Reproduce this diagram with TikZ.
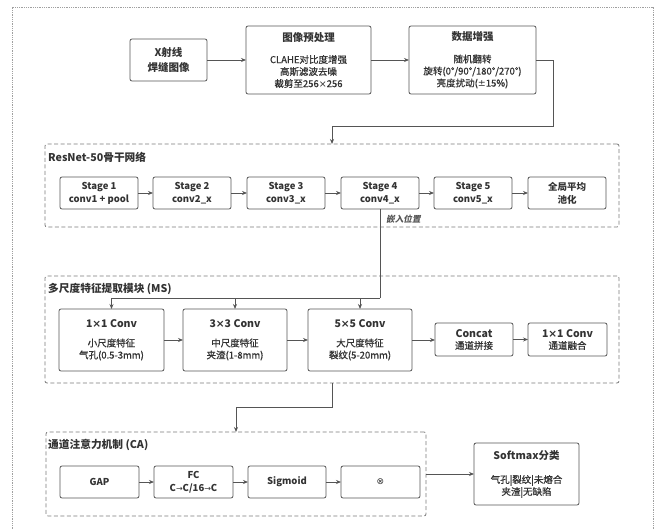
\documentclass[tikz,border=0pt]{standalone}
\usepackage{fontspec}
\setmainfont{Noto Sans CJK SC}
\newfontfamily\symf{DejaVu Sans}
\newfontfamily\medf{Noto Sans CJK SC}[FakeBold=0.8]
\newfontfamily\embf{Noto Sans CJK SC}[FakeSlant=0.2]
\usetikzlibrary{arrows.meta}
\definecolor{txt}{HTML}{333333}
\definecolor{bd}{HTML}{555555}
\definecolor{gd}{HTML}{7A7A7A}
\definecolor{od}{HTML}{A0A0A0}
\tikzset{
 box/.style={draw=bd, line width=0.8pt, rounded corners=2pt, fill=white, inner sep=0pt, outer sep=0pt, align=center, text=txt, font=\medf\fontsize{9.5}{12}\selectfont},
 sbox/.style={box, font=\bfseries\fontsize{9.5}{13}\selectfont},
 grp/.style={draw=gd, line width=0.8pt, dash pattern=on 4pt off 2.5pt, rounded corners=2pt, inner sep=0pt, outer sep=0pt},
 gtitle/.style={anchor=west, text=txt, font=\bfseries\fontsize{10.7}{12}\selectfont, inner sep=0pt},
 arr/.style={draw=bd, line width=0.8pt, -{Stealth[length=5pt,width=4pt]}},
 ln/.style={draw=bd, line width=0.8pt},
 frame/.style={draw=od, line width=0.8pt, dash pattern=on 1pt off 0.8pt},
}
\newcommand\mybox[7][box]{\node[#1, minimum width={(#5-#3)*1pt}, minimum height={(#6-#4)*1pt}] (#2) at ({(#3+#5)/2},{(#4+#6)/2}) {#7};}
\newcommand\ttl[1]{{\normalfont\bfseries\fontsize{10.5}{12}\selectfont #1}}
\newcommand\tms{{\symf ×}}
\newcommand\pmm{{\symf ±}}
\newcommand\arrw{{\symf\mdseries\fontsize{8}{9}\selectfont →}}
\begin{document}
\begin{tikzpicture}[x=1pt,y=-1pt]
\useasboundingbox (0,0) rectangle (655,529);
\draw[frame] (12,560) -- (12,7) -- (653,7) -- (653,560);
% top row
\mybox[sbox, font=\bfseries\fontsize{10.5}{15}\selectfont]{xr}{130}{39}{207}{81}{X射线\\焊缝图像}
\mybox{pre}{246}{26}{371}{94}{\ttl{图像预处理}\\[10pt]CLAHE对比度增强\\高斯滤波去噪\\裁剪至256\tms256}
\mybox{aug}{409}{26}{536}{94}{\ttl{数据增强}\\[10pt]随机翻转\\旋转(0°/90°/180°/270°)\\亮度扰动(\pmm15\%)}
% ResNet group
\mybox[grp]{rn}{45}{144}{619}{227}{}
\node[gtitle] (rnt) at (48,157) {ResNet-50骨干网络};
\mybox[sbox]{s1}{60}{177}{138}{209}{Stage 1\\conv1 + pool}
\mybox[sbox]{s2}{153}{177}{231}{209}{Stage 2\\conv2\_x}
\mybox[sbox]{s3}{247}{177}{325}{209}{Stage 3\\conv3\_x}
\mybox[sbox]{s4}{341}{177}{419}{209}{Stage 4\\conv4\_x}
\mybox[sbox]{s5}{434}{177}{512}{209}{Stage 5\\conv5\_x}
\mybox[sbox]{s6}{528}{177}{606}{209}{全局平均\\池化}
\node[anchor=west, inner sep=0pt, text=bd, font=\embf\bfseries\fontsize{8.6}{10}\selectfont] (emb) at (386,219) {嵌入位置};
% MS group
\mybox[grp]{ms}{45}{276}{619}{383}{}
\node[gtitle] (mst) at (48,289) {多尺度特征提取模块 (MS)};
\mybox{m1}{59}{309}{164}{371}{\ttl{1\tms1 Conv}\\[7pt]小尺度特征\\气孔(0.5-3mm)}
\mybox{m2}{183}{309}{287}{371}{\ttl{3\tms3 Conv}\\[7pt]中尺度特征\\夹渣(1-8mm)}
\mybox{m3}{308}{309}{412}{371}{\ttl{5\tms5 Conv}\\[7pt]大尺度特征\\裂纹(5-20mm)}
\mybox{cc}{435}{323}{513}{356}{\ttl{Concat}\\通道拼接}
\mybox{m5}{528}{323}{607}{356}{\ttl{1\tms1 Conv}\\通道融合}
% CA group
\mybox[grp]{ca}{46}{432}{426}{516}{}
\node[gtitle] (cat) at (48,445) {通道注意力机制 (CA)};
\mybox[sbox]{c1}{60}{466}{139}{498}{GAP}
\mybox[sbox]{c2}{154}{466}{233}{498}{FC\\C\arrw C/16\arrw C}
\mybox[sbox]{c3}{248}{466}{326}{498}{Sigmoid}
\mybox[sbox]{c4}{341}{466}{420}{498}{{\symf\mdseries\fontsize{9}{9}\selectfont ⊗}}
\mybox{sm}{474}{443}{579}{505}{\ttl{Softmax分类}\\[12pt]气孔|裂纹|未熔合\\夹渣|无缺陷}
% connectors
\draw[arr] (xr.east) -- (pre.west);
\draw[arr] (pre.east) -- (aug.west);
\draw[arr] (aug.east) -- ++(17,0) |- ([yshift=18pt]rn.north) -- (rn.north);
\draw[arr] (s1.east) -- (s2.west);
\draw[arr] (s2.east) -- (s3.west);
\draw[arr] (s3.east) -- (s4.west);
\draw[arr] (s4.east) -- (s5.west);
\draw[arr] (s5.east) -- (s6.west);
\coordinate (br) at (380,298);
\draw[ln] (s4.south) -- (br);
\draw[arr] (br) -| (m1.north);
\draw[arr] (m2.north |- br) -- (m2.north);
\draw[arr] (m3.north |- br) -- (m3.north);
\draw[arr] (m1.east) -- (m2.west);
\draw[arr] (m2.east) -- (m3.west);
\draw[arr] (m3.east) -- (m3.east -| cc.west);
\draw[arr] (cc.east) -- (m5.west);
\draw[arr] (ms.south) -- ++(0,24) -| (ca.north);
\draw[arr] (c1.east) -- (c2.west);
\draw[arr] (c2.east) -- (c3.west);
\draw[arr] (c3.east) -- (c4.west);
\draw[arr] (ca.east) -- (sm.west);
\end{tikzpicture}
\end{document}
